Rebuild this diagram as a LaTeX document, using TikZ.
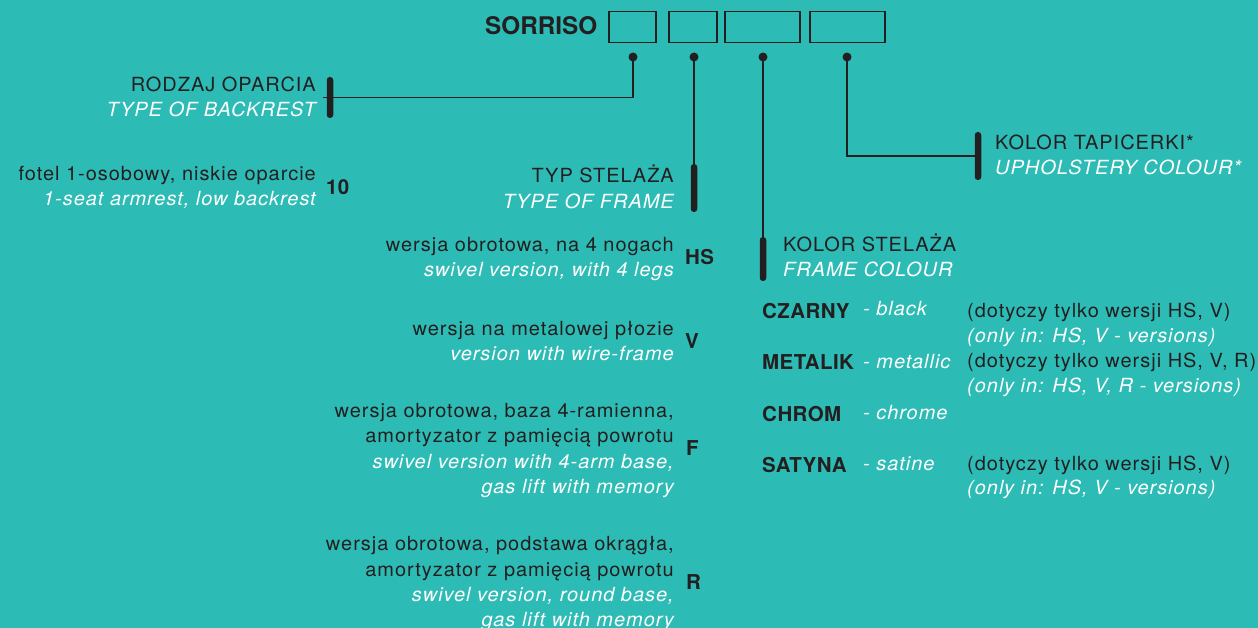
\documentclass[tikz,border=0pt]{standalone}
\usepackage{fontspec}
\setmainfont{TeX Gyre Heros}[LetterSpace=5,FakeStretch=1.025]
\newfontfamily\titlefont{TeX Gyre Heros}
\newfontfamily\codefont{TeX Gyre Heros}[LetterSpace=2]
\definecolor{bg}{RGB}{45,188,181}
\definecolor{ink}{RGB}{35,31,32}
\tikzset{
  lbl/.style={inner sep=0pt, text=ink, font=\fontsize{19.5}{24}\selectfont},
  en/.style={lbl, text=white, font=\fontsize{19.5}{24}\selectfont\itshape},
  code/.style={lbl, font=\codefont\fontsize{20.5}{24}\selectfont\bfseries},
  slot/.style={draw=ink, line width=1.3pt, minimum height=31pt, inner sep=0pt},
  dot/.style={circle, fill=ink, minimum size=9pt, inner sep=0pt},
  bar/.style={fill=ink, rounded corners=3pt, minimum width=6.5pt, inner sep=0pt},
  conn/.style={draw=ink, line width=1.3pt},
}
\begin{document}
\begin{tikzpicture}[x=1pt,y=-1pt]
\fill[bg] (0,0) rectangle (1258,628);
\useasboundingbox (0,0) rectangle (1258,628);
% header
\node[lbl, font=\titlefont\fontsize{24.3}{30}\selectfont\bfseries, anchor=base west] (title) at (485,34.5) {SORRISO};
\node[slot, minimum width=47pt] (b1) at (632.5,27) {};
\node[slot, minimum width=48pt] (b2) at (693,27) {};
\node[slot, minimum width=75pt] (b3) at (762.5,27) {};
\node[slot, minimum width=75pt] (b4) at (847.5,27) {};
\node[dot] (d1) at (633,57) {};
\node[dot] (d2) at (694,57) {};
\node[dot] (d3) at (763,57) {};
\node[dot] (d4) at (847,57) {};
% bars
\node[bar, minimum height=41pt] (bar1) at (330,97.5) {};
\node[bar, minimum height=48pt] (bar2) at (694,188) {};
\node[bar, minimum height=44pt] (bar3) at (763,259) {};
\node[bar, minimum height=48pt] (bar4) at (978,156) {};
\coordinate (e1) at (323,97.5);
% connectors
\draw[conn] (d1.center) |- (e1);
\draw[conn] (d2.center) -- (bar2.north);
\draw[conn] (d3.center) -- (bar3.north);
\draw[conn] (d4.center) |- (bar4.west);
% type of backrest
\node[lbl, anchor=base east] (t1a) at (316,92) {RODZAJ OPARCIA};
\node[en, anchor=base east] (t1b) at (316,117) {TYPE OF BACKREST};
\node[lbl, anchor=base east] (o10a) at (316,181) {fotel 1-osobowy, niskie oparcie};
\node[en, anchor=base east] (o10b) at (316,206) {1-seat armrest, low backrest};
\node[code, anchor=base west] (c10) at (326,195) {10};
% type of frame
\node[lbl, anchor=base east] (t2a) at (674,183) {TYP STELAŻA};
\node[en, anchor=base east] (t2b) at (674,209) {TYPE OF FRAME};
\node[lbl, anchor=base east] (hsa) at (674,252) {wersja obrotowa, na 4 nogach};
\node[en, anchor=base east] (hsb) at (674,277) {swivel version, with 4 legs};
\node[code, anchor=base west] (chs) at (685,265) {HS};
\node[lbl, anchor=base east] (va) at (674,335) {wersja na metalowej płozie};
\node[en, anchor=base east] (vb) at (674,360) {version with wire-frame};
\node[code, anchor=base west] (cv) at (685,348) {V};
\node[lbl, anchor=base east] (fa) at (674,417) {wersja obrotowa, baza 4-ramienna,};
\node[lbl, anchor=base east] (fb) at (674,442) {amortyzator z pamięcią powrotu};
\node[en, anchor=base east] (fc) at (674,468) {swivel version with 4-arm base,};
\node[en, anchor=base east] (fd) at (674,493) {gas lift with memory};
\node[code, anchor=base west] (cf) at (686,455) {F};
\node[lbl, anchor=base east] (ra) at (674,550) {wersja obrotowa, podstawa okrągła,};
\node[lbl, anchor=base east] (rb) at (674,576) {amortyzator z pamięcią powrotu};
\node[en, anchor=base east] (rc) at (674,601) {swivel version, round base,};
\node[en, anchor=base east] (rd) at (674,626) {gas lift with memory};
\node[code, anchor=base west] (cr) at (686,589) {R};
% upholstery
\node[lbl, anchor=base west] (t4a) at (995,150) {KOLOR TAPICERKI*};
\node[en, anchor=base west] (t4b) at (995,175) {UPHOLSTERY COLOUR*};
% frame colour
\node[lbl, anchor=base west] (t3a) at (783,252) {KOLOR STELAŻA};
\node[en, anchor=base west] (t3b) at (783,277) {FRAME COLOUR};
\node[code, anchor=base west] (k1) at (762,318) {CZARNY};
\node[en, anchor=base west] (k1e) at (863,316) {- black};
\node[lbl, anchor=base west] (k1n) at (967,317) {(dotyczy tylko wersji HS, V)};
\node[en, anchor=base west] (k1m) at (967,342) {(only in: HS, V - versions)};
\node[code, anchor=base west] (k2) at (762,369) {METALIK};
\node[en, anchor=base west] (k2e) at (863,368.5) {- metallic};
\node[lbl, anchor=base west] (k2n) at (967,367.5) {(dotyczy tylko wersji HS, V, R)};
\node[en, anchor=base west] (k2m) at (967,392) {(only in: HS, V, R - versions)};
\node[code, anchor=base west] (k3) at (762,421) {CHROM};
\node[en, anchor=base west] (k3e) at (863,419.5) {- chrome};
\node[code, anchor=base west] (k4) at (762,472) {SATYNA};
\node[en, anchor=base west] (k4e) at (863,470.5) {- satine};
\node[lbl, anchor=base west] (k4n) at (967,470) {(dotyczy tylko wersji HS, V)};
\node[en, anchor=base west] (k4m) at (967,494.5) {(only in: HS, V - versions)};
\end{tikzpicture}
\end{document}
